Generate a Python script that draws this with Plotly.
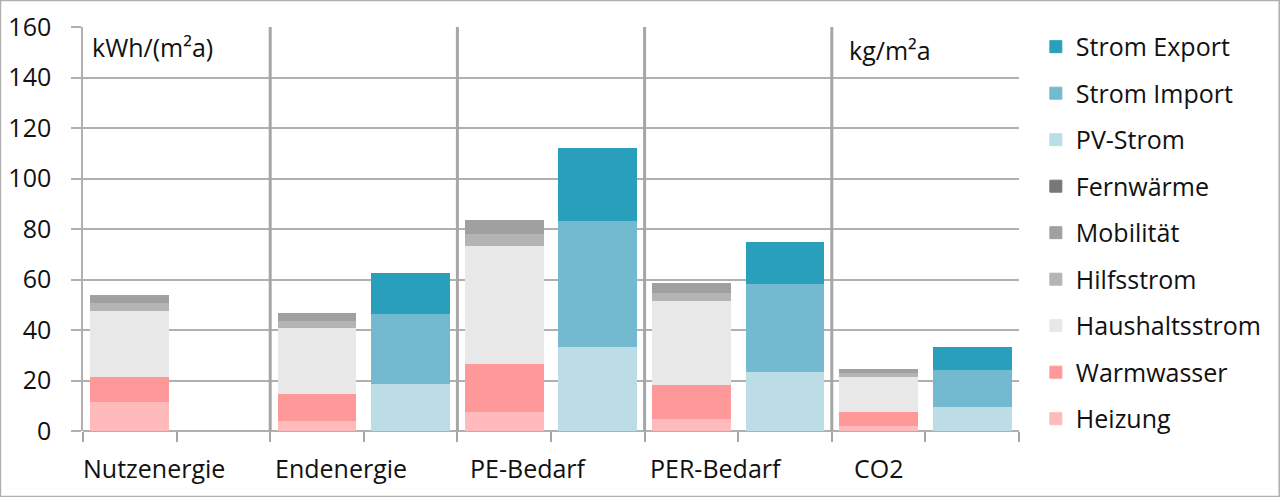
import plotly.graph_objects as go

# 10 columns: demand bar + supply bar for each group
groups = ["Nutzenergie", "Endenergie", "PE-Bedarf", "PER-Bedarf", "CO2"]
x = list(range(10))

heizung = [11.5, None, 4.2, None, 7.8, None, 4.8, None, 2.3, None]
warmwasser = [10.2, None, 10.5, None, 18.9, None, 13.5, None, 5.5, None]
haushaltsstrom = [26.2, None, 26.2, None, 46.6, None, 33.3, None, 13.9, None]
hilfsstrom = [2.8, None, 2.8, None, 4.9, None, 3.2, None, 1.3, None]
mobilitaet = [2.8, None, 2.7, None, 5.1, None, 3.8, None, 1.5, None]
fernwaerme = [None] * 10
pv_strom = [None, None, None, 18.7, None, 33.6, None, 23.6, None, 9.9]
strom_import = [None, None, None, 27.7, None, 49.7, None, 35.0, None, 14.6]
strom_export = [None, None, None, 15.8, None, 28.6, None, 16.0, None, 8.7]

series = [
    ("Heizung", heizung, "#ffbbbb"),
    ("Warmwasser", warmwasser, "#ff9999"),
    ("Haushaltsstrom", haushaltsstrom, "#e8e8e8"),
    ("Hilfsstrom", hilfsstrom, "#b4b4b4"),
    ("Mobilität", mobilitaet, "#a0a0a0"),
    ("Fernwärme", fernwaerme, "#777777"),
    ("PV-Strom", pv_strom, "#bcdde6"),
    ("Strom Import", strom_import, "#73b9d0"),
    ("Strom Export", strom_export, "#2a9fbc"),
]

FONT = "Open Sans"
FS = 25
W, H = 1280, 497
ML, MR, MT, MB = 83, 261, 27, 66

fig = go.Figure()
for i, (name, vals, col) in enumerate(series):
    fig.add_bar(x=x, y=vals, name=name, legendgroup=name,
                legendrank=len(series) - i,
                marker=dict(color=col, line=dict(color=col, width=1)))

# separators between groups
for b in [1.5, 3.5, 5.5, 7.5]:
    fig.add_shape(type="line", x0=b, x1=b, y0=0, y1=160, xref="x", yref="y",
                  line=dict(color="#a6a6a6", width=3), layer="above")

# group labels under the axis
for i, g in enumerate(groups):
    off = 0.0 if g == "CO2" else 0.26
    fig.add_annotation(x=2 * i + off, y=-0.092, xref="x", yref="paper",
                       text=g, showarrow=False, xanchor="center", yanchor="middle",
                       font=dict(size=FS, color="#111111", family=FONT))

# unit labels
fig.add_annotation(x=-0.42, y=152, xref="x", yref="y", text="kWh/(m²a)",
                   showarrow=False, xanchor="left", yanchor="middle",
                   font=dict(size=FS, color="#111111", family=FONT))
fig.add_annotation(x=7.66, y=151, xref="x", yref="y", text="kg/m²a",
                   showarrow=False, xanchor="left", yanchor="middle",
                   font=dict(size=FS, color="#111111", family=FONT))

# outer frame
pw, ph = W - ML - MR, H - MT - MB
fig.add_shape(type="rect", xref="paper", yref="paper",
              x0=-ML / pw + 0.0005, x1=1 + MR / pw - 0.0008,
              y0=-MB / ph + 0.001, y1=1 + MT / ph - 0.001,
              line=dict(color="#b0b0b0", width=1.5))

fig.update_layout(
    width=W, height=H,
    margin=dict(l=ML, r=MR, t=MT, b=MB, autoexpand=False),
    barmode="stack", bargap=0.17,
    plot_bgcolor="white", paper_bgcolor="white",
    font=dict(family=FONT, size=FS, color="#111111"),
    showlegend=True,
    legend=dict(traceorder="grouped", x=1.018, xanchor="left",
                y=1.0076, yanchor="top", tracegroupgap=11, maxheight=490,
                font=dict(size=FS, family=FONT, color="#111111")),
    xaxis=dict(range=[-0.5, 9.5], tickmode="array",
               tickvals=[v - 0.5 for v in range(11)], ticktext=[""] * 11,
               ticks="outside", ticklen=10, tickcolor="#a6a6a6", tickwidth=1.5,
               showgrid=False, zeroline=False, showline=False),
    yaxis=dict(range=[0, 160], dtick=20, ticks="outside", ticklen=10,
               tickcolor="#b0b0b0", tickwidth=1.5, ticklabelstandoff=15,
               showgrid=True, gridcolor="#b0b0b0", gridwidth=1.5,
               showline=True, linecolor="#b0b0b0", linewidth=1.5,
               zeroline=True, zerolinecolor="#b0b0b0", zerolinewidth=1.5,
               tickfont=dict(size=FS, family=FONT, color="#111111")),
)

fig.write_html("out.html", config={"displayModeBar": False},
               post_script="document.body.style.margin='0';document.body.style.overflow='hidden';")
